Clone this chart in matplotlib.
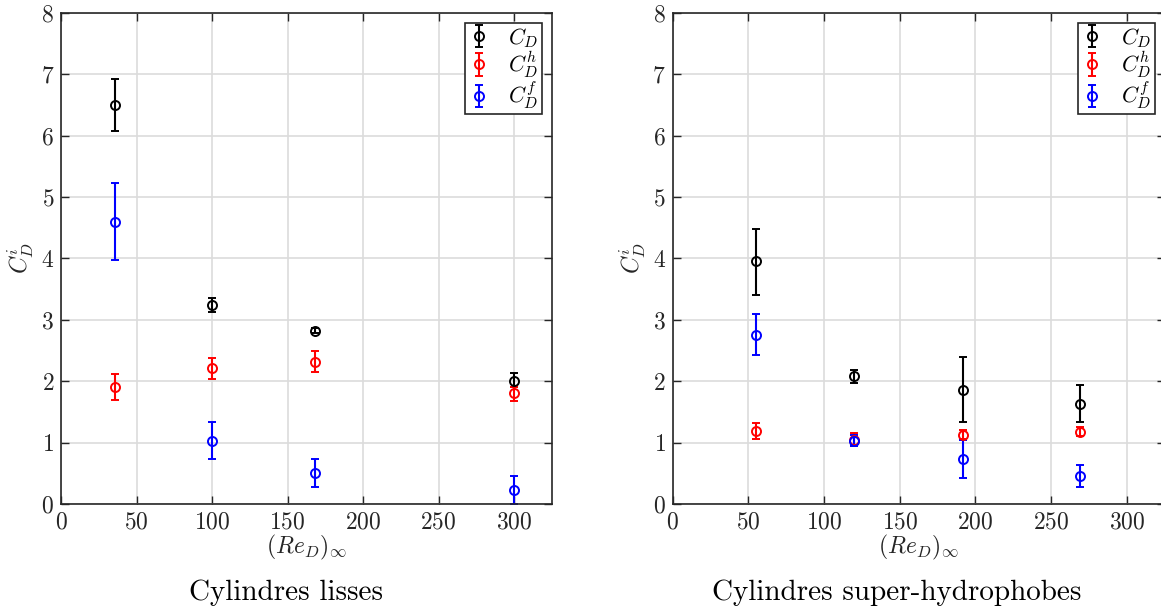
import matplotlib
matplotlib.use("Agg")
import matplotlib.pyplot as plt
import numpy as np

# ---- data: smooth cylinders ----
re_lisse = [36, 100, 168, 300]
cd_lisse = [6.50, 3.24, 2.82, 2.01]
cd_lisse_lo = [0.42, 0.12, 0.04, 0.11]
cd_lisse_hi = [0.42, 0.12, 0.04, 0.12]
cdh_lisse = [1.90, 2.21, 2.32, 1.80]
cdh_lisse_lo = [0.21, 0.18, 0.17, 0.12]
cdh_lisse_hi = [0.21, 0.17, 0.17, 0.11]
cdf_lisse = [4.60, 1.03, 0.51, 0.22]
cdf_lisse_lo = [0.62, 0.30, 0.23, 0.22]
cdf_lisse_hi = [0.62, 0.30, 0.22, 0.24]

# ---- data: super-hydrophobic cylinders ----
re_sh = [55, 120, 192, 269]
cd_sh = [3.95, 2.08, 1.86, 1.63]
cd_sh_lo = [0.54, 0.11, 0.53, 0.30]
cd_sh_hi = [0.53, 0.11, 0.53, 0.30]
cdh_sh = [1.19, 1.05, 1.13, 1.18]
cdh_sh_lo = [0.13, 0.10, 0.07, 0.08]
cdh_sh_hi = [0.13, 0.10, 0.08, 0.08]
cdf_sh = [2.76, 1.03, 0.73, 0.46]
cdf_sh_lo = [0.33, 0.09, 0.31, 0.19]
cdf_sh_hi = [0.33, 0.09, 0.31, 0.18]

titles = ["Cylindres lisses", "Cylindres super-hydrophobes"]
labels = [r"$C_D$", r"$C_D^h$", r"$C_D^f$"]
colors = ["black", "red", "blue"]

plt.rcParams["font.family"] = "cmr10"
plt.rcParams["mathtext.fontset"] = "cm"
plt.rcParams["axes.formatter.use_mathtext"] = True

fig = plt.figure(figsize=(11.61, 6.11), dpi=100)
W, H = 1161, 611
ax1 = fig.add_axes([61 / W, (611 - 504) / H, 491 / W, 491.3 / H])
ax2 = fig.add_axes([672.7 / W, (611 - 504) / H, 492 / W, 491.3 / H])

datasets = [
    (re_lisse, [(cd_lisse, cd_lisse_lo, cd_lisse_hi),
                (cdh_lisse, cdh_lisse_lo, cdh_lisse_hi),
                (cdf_lisse, cdf_lisse_lo, cdf_lisse_hi)]),
    (re_sh, [(cd_sh, cd_sh_lo, cd_sh_hi),
             (cdh_sh, cdh_sh_lo, cdh_sh_hi),
             (cdf_sh, cdf_sh_lo, cdf_sh_hi)]),
]

for ax, (xs, series) in zip([ax1, ax2], datasets):
    for (ys, lo, hi), lab, col in zip(series, labels, colors):
        ax.errorbar(xs, ys, yerr=[lo, hi], fmt="o", color=col, mfc="none",
                    mec=col, ms=6.5, mew=1.4, elinewidth=1.5, capsize=3.2,
                    capthick=1.5, label=lab)
    ax.set_xlim(0, 325)
    ax.set_ylim(0, 8)
    ax.set_xticks([0, 50, 100, 150, 200, 250, 300])
    ax.set_yticks(range(0, 9))
    ax.grid(True, color="#dcdcdc", linewidth=1.2)
    ax.set_axisbelow(True)
    ax.tick_params(direction="in", top=True, right=True, labelsize=17,
                   length=6, width=1.0, pad=5, colors="#262626",
                   labelcolor="#262626")
    for sp in ax.spines.values():
        sp.set_linewidth(1.2)
        sp.set_color("#262626")
    ax.set_xlabel(r"$(Re_D)_\infty$", fontsize=17, labelpad=0, color="#262626")
    ax.set_ylabel(r"$C_D^i$", fontsize=17, labelpad=3, color="#262626")
    leg = ax.legend(loc="upper right", fontsize=16, frameon=True, fancybox=False,
                    edgecolor="#262626", framealpha=1, borderaxespad=0.45,
                    handlelength=1.0, handletextpad=0.8, labelspacing=0.0,
                    borderpad=0.15)
    leg.get_frame().set_linewidth(1.2)

fig.text(286 / W, 18 / H, titles[0], ha="center", va="center", fontsize=21)
fig.text(897 / W, 18 / H, titles[1], ha="center", va="center", fontsize=21)

fig.savefig("out.png", dpi=100)
